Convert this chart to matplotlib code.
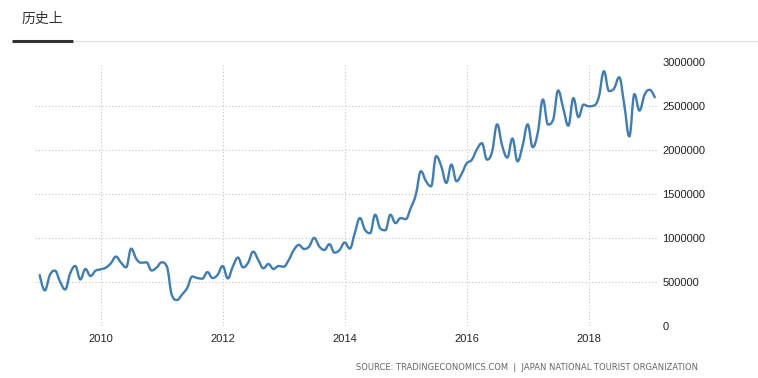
import numpy as np
import matplotlib
matplotlib.use("Agg")
import matplotlib.pyplot as plt
from matplotlib.path import Path
from matplotlib.patches import PathPatch

# ---- data: monthly visitor arrivals, Jan 2009 .. Feb 2019 ----
start_year = 2009
v2009 = [580000, 405000, 580000, 630000, 505000, 416000, 600000, 683000, 530000, 649000, 569000, 630000]
v2010 = [645000, 664000, 714000, 790000, 721000, 668000, 881000, 765000, 720000, 725000, 632000, 665000]
v2011 = [725000, 680000, 352000, 296000, 358000, 431000, 563000, 546000, 539000, 614000, 546000, 583000]
v2012 = [683000, 542000, 677000, 779000, 668000, 720000, 847000, 752000, 657000, 706000, 649000, 683000]
v2013 = [675000, 752000, 866000, 923000, 877000, 904000, 1003000, 906000, 866000, 931000, 835000, 866000]
v2014 = [950000, 881000, 1060000, 1229000, 1095000, 1057000, 1267000, 1110000, 1090000, 1267000, 1171000, 1229000]
v2015 = [1217000, 1343000, 1495000, 1762000, 1648000, 1590000, 1934000, 1819000, 1629000, 1838000, 1648000, 1731000]
v2016 = [1852000, 1891000, 2009000, 2082000, 1894000, 1985000, 2296000, 2049000, 1918000, 2135000, 1875000, 2052000]
v2017 = [2296000, 2036000, 2205000, 2579000, 2294000, 2347000, 2682000, 2478000, 2280000, 2595000, 2378000, 2521000]
v2018 = [2501000, 2509000, 2607000, 2901000, 2675000, 2704000, 2832000, 2520000, 2159000, 2640000, 2452000, 2633000]
v2019 = [2689000, 2604000]

year_ticks = [2010, 2012, 2014, 2016, 2018]
y_ticks = [0, 500000, 1000000, 1500000, 2000000, 2500000, 3000000]
title_text = "历史上"
source_text = "SOURCE: TRADINGECONOMICS.COM  |  JAPAN NATIONAL TOURIST ORGANIZATION"

values = np.array(v2009 + v2010 + v2011 + v2012 + v2013 + v2014 + v2015
                  + v2016 + v2017 + v2018 + v2019, dtype=float)
months = np.arange(len(values))
xdates = start_year + months / 12.0


def spline_path(x, y, smoothing=1.5):
    """Highcharts-style spline: cubic Bezier control points per point."""
    n = len(x)
    denom = smoothing + 1
    lcx = x.astype(float).copy(); lcy = y.astype(float).copy()
    rcx = x.astype(float).copy(); rcy = y.astype(float).copy()
    for i in range(1, n - 1):
        px, py = x[i], y[i]
        lx, ly = x[i - 1], y[i - 1]
        nx, ny = x[i + 1], y[i + 1]
        a_x = (smoothing * px + lx) / denom
        a_y = (smoothing * py + ly) / denom
        b_x = (smoothing * px + nx) / denom
        b_y = (smoothing * py + ny) / denom
        corr = 0.0
        if b_x != a_x:
            corr = (b_y - a_y) * (b_x - px) / (b_x - a_x) + py - b_y
        a_y += corr
        b_y += corr
        if a_y > ly and a_y > py:
            a_y = max(ly, py); b_y = 2 * py - a_y
        elif a_y < ly and a_y < py:
            a_y = min(ly, py); b_y = 2 * py - a_y
        if b_y > ny and b_y > py:
            b_y = max(ny, py); a_y = 2 * py - b_y
        elif b_y < ny and b_y < py:
            b_y = min(ny, py); a_y = 2 * py - b_y
        lcx[i], lcy[i], rcx[i], rcy[i] = a_x, a_y, b_x, b_y
    verts = [(x[0], y[0])]
    codes = [Path.MOVETO]
    for i in range(1, n):
        verts += [(rcx[i - 1], rcy[i - 1]), (lcx[i], lcy[i]), (x[i], y[i])]
        codes += [Path.CURVE4] * 3
    return Path(verts, codes)


fig = plt.figure(figsize=(7.58, 3.78), dpi=100)
fig.patch.set_facecolor("white")

# header
fig.text(22 / 758, 1 - 19 / 378, title_text, family=["Noto Sans CJK SC", "DejaVu Sans"],
         fontsize=10, color="#333333", ha="left", va="center")
fig.add_artist(plt.Line2D([12 / 758, 73 / 758], [1 - 40.8 / 378] * 2, color="#333333",
                          linewidth=2.2, solid_capstyle="butt"))
fig.add_artist(plt.Line2D([73 / 758, 1.0], [1 - 41 / 378] * 2, color="#dddddd",
                          linewidth=0.8, solid_capstyle="butt"))

ax = fig.add_axes([35 / 758, 1 - 326 / 378, (658 - 35) / 758, (326 - 62.5) / 378])
ax.set_facecolor("white")

ax.add_patch(PathPatch(spline_path(xdates, values), facecolor="none",
                       edgecolor="#3d7db8", linewidth=1.7, capstyle="round",
                       joinstyle="round", zorder=3))

x_left = start_year + (35 - 39.7) / 5.083 / 12
x_right = start_year + (658 - 39.7) / 5.083 / 12
ax.set_xlim(x_left, x_right)
ax.set_ylim(0, 3000000)

ax.set_xticks(year_ticks)
ax.set_xticklabels([str(y) for y in year_ticks])
ax.set_yticks(y_ticks)
ax.set_yticklabels([str(v) for v in y_ticks])
ax.yaxis.tick_right()

for s in ax.spines.values():
    s.set_visible(False)
ax.tick_params(axis="both", length=0, labelsize=8, labelcolor="#222222")
ax.tick_params(axis="x", pad=6)
ax.tick_params(axis="y", pad=3)
for lab in ax.get_xticklabels() + ax.get_yticklabels():
    lab.set_family("Liberation Sans")
for lab in ax.get_yticklabels():
    lab.set_horizontalalignment("left")

ax.grid(True, color="#c4c4c4", linestyle=(0, (1, 2)), linewidth=0.8)
ax.set_axisbelow(True)

fig.text(698 / 758, 1 - 367 / 378, source_text, family="DejaVu Sans", fontsize=6.0,
         color="#666666", ha="right", va="center")

fig.savefig("out.png", dpi=100, facecolor="white")
